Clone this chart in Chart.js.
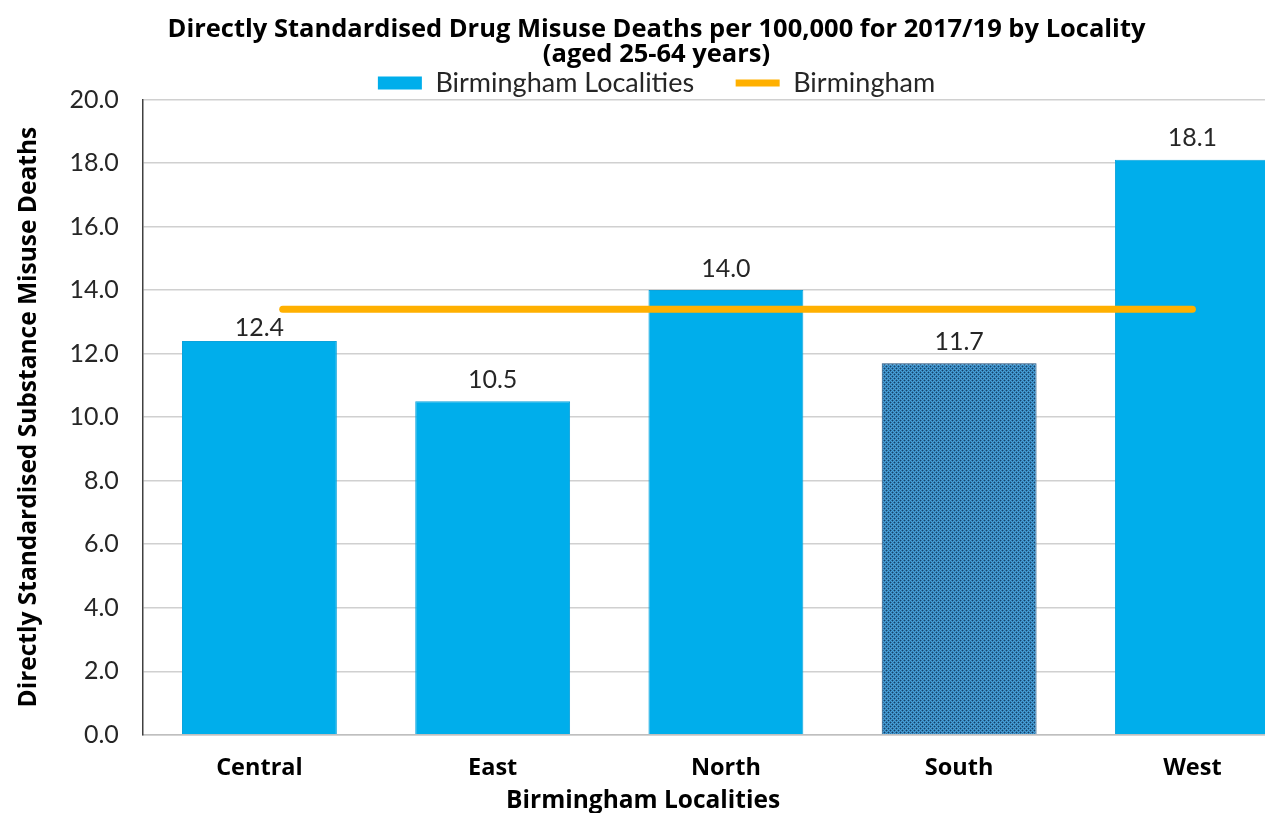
<!DOCTYPE html>
<html>
<head>
<meta charset="utf-8">
<script src="https://cdn.jsdelivr.net/npm/chart.js@4"></script>
<style>
  html, body { margin: 0; padding: 0; background: #fff; overflow: hidden; }
  #wrap { width: 1322px; height: 822px; }
</style>
</head>
<body>
<div id="wrap"><canvas id="chart"></canvas></div>
<script>
// Chart data
const localities = ['Central', 'East', 'North', 'South', 'West'];
const deathRates = [12.4, 10.5, 14.0, 11.7, 18.1];
const birminghamRate = 13.4;
const birminghamLineX = [0.6, 4.5];
const yTicks = [0, 2, 4, 6, 8, 10, 12, 14, 16, 18, 20];

const FONT = 'Lato, "Open Sans", sans-serif';
const BOLD_FONT = '"Open Sans", Lato, sans-serif';

// Dotted pattern used for the South bar
function makePattern() {
    const p = document.createElement('canvas');
    p.width = 4;
    p.height = 4;
    const c = p.getContext('2d');
    c.fillStyle = '#4aa0d6';
    c.fillRect(0, 0, 4, 4);
    c.fillStyle = '#2f78ad';
    for (let y = 0; y < 4; y++) {
        for (let x = 0; x < 4; x++) {
            if ((x + y) % 2 === 1) c.fillRect(x, y, 1, 1);
        }
    }
    c.fillStyle = '#163f66';
    c.fillRect(0, 0, 1, 1);
    c.fillRect(2, 2, 1, 1);
    return document.getElementById('chart').getContext('2d').createPattern(p, 'repeat');
}

const southPattern = makePattern();
const barColors = localities.map(l => l === 'South' ? southPattern : '#00aeeb');
const barBorders = localities.map(l => l === 'South' ? '#1d4f7c' : '#0aa3dc');

// Legend box is a bit tall by default, trim its bottom space
const tightLegend = {
    id: 'tightLegend',
    afterInit(chart) {
        const lg = chart.legend;
        const fit = lg.fit.bind(lg);
        lg.fit = function() {
            fit();
            this.height -= 7;
        };
    }
};

// Value labels above the bars, plus the x axis title
const extraText = {
    id: 'extraText',
    afterDatasetsDraw(chart) {
        const ctx = chart.ctx;
        const meta = chart.getDatasetMeta(0);
        const area = chart.chartArea;
        ctx.save();
        ctx.font = '25px ' + FONT;
        ctx.fillStyle = '#262626';
        ctx.textAlign = 'center';
        ctx.textBaseline = 'bottom';
        meta.data.forEach((bar, i) => {
            // Central label sits closer to its bar, clear of the Birmingham line
            const lift = i === 0 ? 0 : 9;
            ctx.fillText(deathRates[i].toFixed(1), bar.x, bar.y - lift);
        });
        ctx.font = 'bold 24.5px ' + BOLD_FONT;
        ctx.fillStyle = '#000';
        ctx.textBaseline = 'middle';
        ctx.fillText('Birmingham Localities', area.left + area.width * 0.429, area.bottom + 66);
        ctx.restore();
    }
};

new Chart(document.getElementById('chart'), {
    type: 'bar',
    data: {
        labels: localities,
        datasets: [{
            label: 'Birmingham Localities',
            data: deathRates,
            backgroundColor: barColors,
            borderColor: barBorders,
            borderWidth: 1,
            grouped: false,
            categoryPercentage: 1,
            barPercentage: 0.664,
            order: 1
        }, {
            type: 'line',
            label: 'Birmingham',
            xAxisID: 'x2',
            data: birminghamLineX.map(x => ({ x: x, y: birminghamRate })),
            borderColor: '#ffb000',
            backgroundColor: '#ffb000',
            borderWidth: 7,
            borderCapStyle: 'round',
            pointRadius: 0,
            order: 0
        }]
    },
    options: {
        responsive: true,
        maintainAspectRatio: false,
        animation: false,
        layout: { padding: { top: 17, right: 13, left: 4, bottom: 21 } },
        plugins: {
            title: {
                display: true,
                text: ['Directly Standardised Drug Misuse Deaths per 100,000 for 2017/19 by Locality', '(aged 25-64 years)'],
                color: '#000',
                font: { family: BOLD_FONT, size: 25.5, weight: 'bold', lineHeight: 0.98 },
                padding: { top: 0, bottom: 2.5 }
            },
            legend: {
                display: true,
                labels: {
                    color: '#262626',
                    font: { family: FONT, size: 27 },
                    usePointStyle: true,
                    pointStyleWidth: 44,
                    boxHeight: 13,
                    padding: 0,
                    sort: (a, b) => a.datasetIndex - b.datasetIndex,
                    generateLabels(chart) {
                        const items = Chart.defaults.plugins.legend.labels.generateLabels(chart);
                        items.forEach(it => {
                            it.pointStyle = it.datasetIndex === 0 ? 'rect' : 'line';
                            if (it.datasetIndex === 0) {
                                it.fillStyle = '#00aeeb';
                                it.lineWidth = 0;
                                it.text = it.text + '      ';
                            }
                        });
                        return items;
                    }
                }
            },
            tooltip: { enabled: false }
        },
        scales: {
            x: {
                type: 'category',
                offset: true,
                grid: { display: false, drawTicks: false },
                border: { display: true, color: '#bfbfbf', width: 1.5 },
                ticks: {
                    color: '#000',
                    font: { family: BOLD_FONT, size: 23.5, weight: 'bold' },
                    padding: 19
                }
            },
            x2: {
                type: 'linear',
                display: false,
                offset: false,
                min: 0,
                max: localities.length
            },
            y: {
                min: 0,
                max: 20,
                afterBuildTicks(axis) {
                    axis.ticks = yTicks.map(v => ({ value: v }));
                },
                grid: { color: '#d0d0d0', drawTicks: false, lineWidth: 1.5 },
                border: { display: true, color: '#404040', width: 1.5 },
                ticks: {
                    color: '#262626',
                    font: { family: FONT, size: 25 },
                    padding: 24,
                    callback: v => v.toFixed(1)
                },
                title: {
                    display: true,
                    text: 'Directly Standardised Substance Misuse Deaths',
                    color: '#000',
                    font: { family: BOLD_FONT, size: 24.5, weight: 'bold' },
                    padding: { top: 10, bottom: 2 }
                }
            }
        }
    },
    plugins: [tightLegend, extraText]
});
</script>
</body>
</html>
